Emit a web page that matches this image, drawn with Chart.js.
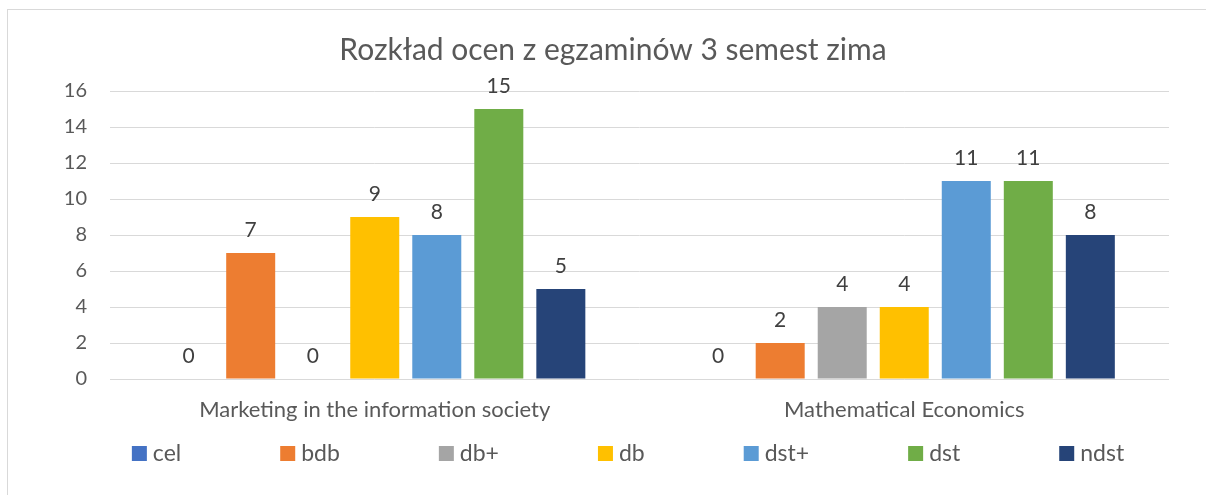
<!DOCTYPE html>
<html>
<head>
<meta charset="utf-8">
<script src="https://cdn.jsdelivr.net/npm/chart.js@4"></script>
<style>
html,body{margin:0;padding:0;background:#fff;}
#wrap{position:absolute;left:0;top:0;width:1206px;height:495px;}
</style>
</head>
<body>
<div id="wrap"><canvas id="c" width="1206" height="495"></canvas></div>
<script>
const chartTitle = 'Rozkład ocen z egzaminów 3 semest zima';
const categories = ['Marketing in the information society', 'Mathematical Economics'];
const seriesNames = ['cel', 'bdb', 'db+', 'db', 'dst+', 'dst', 'ndst'];
const seriesColors = ['#4472C4', '#ED7D31', '#A5A5A5', '#FFC000', '#5B9BD5', '#70AD47', '#264478'];
const celValues  = [0, 0];
const bdbValues  = [7, 2];
const dbPlusValues = [0, 4];
const dbValues   = [9, 4];
const dstPlusValues = [8, 11];
const dstValues  = [15, 11];
const ndstValues = [5, 8];
const seriesValues = [celValues, bdbValues, dbPlusValues, dbValues, dstPlusValues, dstValues, ndstValues];
const yTicks = { min: 0, max: 16, step: 2 };

const FONT = 'Lato, "Noto Sans", sans-serif';
const TEXT = '#595959';

const bgPlugin = {
  id: 'bg',
  beforeDraw(chart) {
    const ctx = chart.ctx;
    ctx.save();
    ctx.fillStyle = '#fff';
    ctx.fillRect(0, 0, chart.width, chart.height);
    ctx.strokeStyle = '#D9D9D9';
    ctx.lineWidth = 1;
    ctx.strokeRect(7.5, 9.5, chart.width + 10, chart.height + 10);
    ctx.restore();
  }
};

const labelPlugin = {
  id: 'vlabels',
  afterDatasetsDraw(chart) {
    const ctx = chart.ctx;
    ctx.save();
    ctx.font = '21px ' + FONT;
    ctx.fillStyle = '#404040';
    ctx.textAlign = 'center';
    ctx.textBaseline = 'middle';
    chart.data.datasets.forEach((ds, i) => {
      const meta = chart.getDatasetMeta(i);
      meta.data.forEach((el, j) => {
        ctx.fillText(String(ds.data[j]), el.x, el.y - 23);
      });
    });
    ctx.restore();
  }
};

const legendPlugin = {
  id: 'xlsLegend',
  afterDraw(chart) {
    const ctx = chart.ctx;
    ctx.save();
    ctx.font = '23px ' + FONT;
    ctx.textBaseline = 'middle';
    const box = 15, gapText = 6, gapItem = 99;
    const items = chart.data.datasets.map(ds => ({ text: ds.label, color: ds.backgroundColor, w: ctx.measureText(ds.label).width }));
    let total = 0;
    items.forEach((it, i) => { total += box + gapText + it.w + (i < items.length - 1 ? gapItem : 0); });
    const centerX = 628, cy = 453.5;
    let x = centerX - total / 2;
    items.forEach(it => {
      ctx.fillStyle = it.color;
      ctx.fillRect(x, cy - box / 2, box, box);
      ctx.fillStyle = TEXT;
      ctx.textAlign = 'left';
      ctx.fillText(it.text, x + box + gapText, cy);
      x += box + gapText + it.w + gapItem;
    });
    ctx.restore();
  }
};

new Chart(document.getElementById('c'), {
  type: 'bar',
  data: {
    labels: categories,
    datasets: seriesNames.map((n, i) => ({
      label: n,
      data: seriesValues[i],
      backgroundColor: seriesColors[i],
      borderWidth: 0,
      categoryPercentage: 0.82,
      barPercentage: 0.79
    }))
  },
  options: {
    responsive: false,
    animation: false,
    layout: { padding: { left: 57, right: 37, top: 10, bottom: 72 } },
    plugins: {
      legend: { display: false },
      tooltip: { enabled: false },
      title: {
        display: true,
        text: chartTitle,
        color: TEXT,
        font: { family: FONT, size: 30, weight: 'normal' },
        padding: { top: 22, bottom: 23 }
      }
    },
    scales: {
      x: {
        grid: { display: false, drawTicks: false },
        border: { display: false },
        ticks: { color: TEXT, font: { family: FONT, size: 22 }, padding: 18, maxRotation: 0 },
        afterFit(scale) { scale.height = 44; }
      },
      y: {
        min: yTicks.min,
        max: yTicks.max,
        grid: { color: '#D9D9D9', drawTicks: false, lineWidth: 1 },
        border: { display: false },
        ticks: { stepSize: yTicks.step, color: TEXT, font: { family: FONT, size: 20 }, padding: 23 },
        afterFit(scale) { scale.width = 53; }
      }
    }
  },
  plugins: [bgPlugin, labelPlugin, legendPlugin]
});
</script>
</body>
</html>
